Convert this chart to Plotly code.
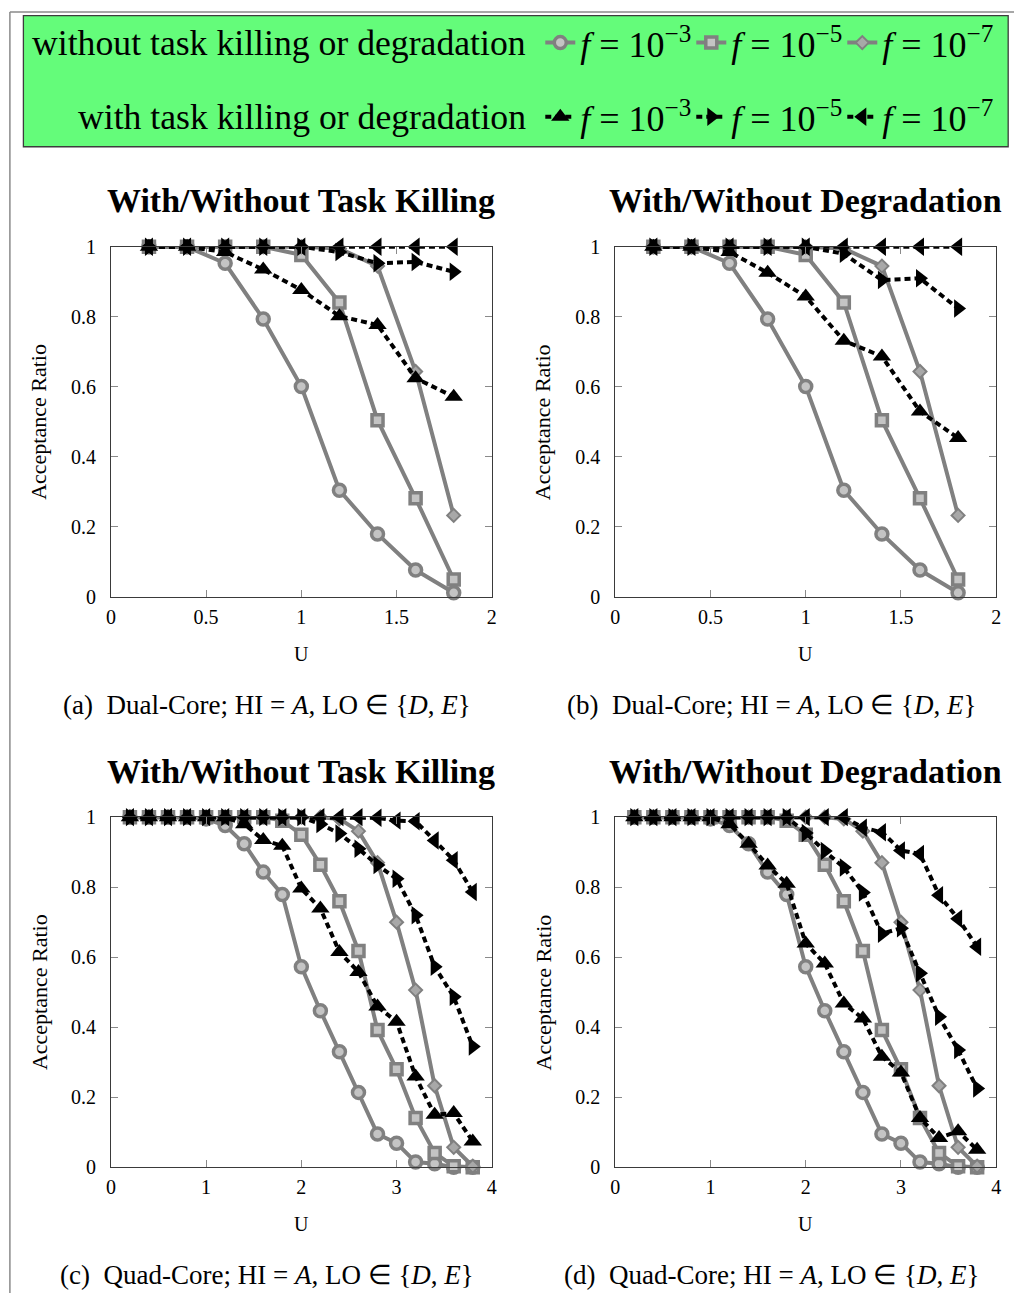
import plotly.graph_objects as go

W, H = 1019, 1304
SERIF = "Liberation Serif, Times New Roman, serif"

# placement of the layout on the rendered page (scale, offset per axis)
SX, OX = 0.9904, 4.6
SY, OY = 0.9826, 11.3

# utilization sweep
u_dual = [0.2, 0.4, 0.6, 0.8, 1.0, 1.2, 1.4, 1.6, 1.8]
u_quad = [0.2, 0.4, 0.6, 0.8, 1.0, 1.2, 1.4, 1.6, 1.8, 2.0,
          2.2, 2.4, 2.6, 2.8, 3.0, 3.2, 3.4, 3.6, 3.8]

# dual-core, baseline (no killing / degradation)
dual_base_f3 = [1, 1, 0.953, 0.794, 0.601, 0.305, 0.180, 0.077, 0.012]
dual_base_f5 = [1, 1, 1, 1, 0.977, 0.841, 0.505, 0.282, 0.050]
dual_base_f7 = [1, 1, 1, 1, 1, 0.995, 0.945, 0.644, 0.233]
# dual-core, task killing
dual_kill_f3 = [1, 1, 0.985, 0.935, 0.877, 0.802, 0.777, 0.625, 0.572]
dual_kill_f5 = [1, 1, 1, 1, 1, 0.985, 0.953, 0.957, 0.929]
dual_kill_f7 = [1, 1, 1, 1, 1, 1, 1, 1, 1]
# dual-core, degradation
dual_deg_f3 = [1, 1, 0.985, 0.926, 0.858, 0.732, 0.687, 0.530, 0.454]
dual_deg_f5 = [1, 1, 1, 1, 1, 0.980, 0.905, 0.910, 0.824]
dual_deg_f7 = [1, 1, 1, 1, 1, 1, 1, 1, 1]

# quad-core, baseline
quad_base_f3 = [1, 1, 1, 1, 0.995, 0.976, 0.924, 0.843, 0.779, 0.573,
                0.447, 0.330, 0.214, 0.095, 0.069, 0.015, 0.010, 0, 0]
quad_base_f5 = [1, 1, 1, 1, 1, 1, 1, 1, 0.990, 0.950,
                0.864, 0.760, 0.618, 0.392, 0.280, 0.141, 0.041, 0.003, 0]
quad_base_f7 = [1, 1, 1, 1, 1, 1, 1, 1, 1, 1,
                1, 0.995, 0.960, 0.870, 0.700, 0.506, 0.233, 0.057, 0.003]
# quad-core, task killing
quad_kill_f3 = [1, 1, 1, 1, 1, 1, 0.980, 0.935, 0.918, 0.796,
                0.739, 0.615, 0.558, 0.459, 0.416, 0.259, 0.150, 0.155, 0.074]
quad_kill_f5 = [1, 1, 1, 1, 1, 1, 1, 1, 1, 1,
                0.980, 0.953, 0.910, 0.863, 0.824, 0.720, 0.573, 0.487, 0.345]
quad_kill_f7 = [1, 1, 1, 1, 1, 1, 1, 1, 1, 1,
                1, 1, 1, 0.998, 0.990, 0.988, 0.933, 0.877, 0.786]
# quad-core, degradation
quad_deg_f3 = [1, 1, 1, 1, 1, 0.980, 0.924, 0.862, 0.810, 0.639,
               0.582, 0.468, 0.425, 0.316, 0.271, 0.141, 0.084, 0.103, 0.050]
quad_deg_f5 = [1, 1, 1, 1, 1, 1, 1, 1, 1, 0.955,
               0.903, 0.856, 0.785, 0.667, 0.683, 0.554, 0.430, 0.335, 0.225]
quad_deg_f7 = [1, 1, 1, 1, 1, 1, 1, 1, 1, 1,
               1, 1, 0.970, 0.957, 0.905, 0.895, 0.777, 0.710, 0.630]

f_labels = ["<i>f</i> = 10<sup>\u22123</sup>",
            "<i>f</i> = 10<sup>\u22125</sup>",
            "<i>f</i> = 10<sup>\u22127</sup>"]

GRAY = "#808080"
LIGHT = "#c4c4c4"

base_styles = [
    dict(symbol="circle", size=12, color=LIGHT, line=dict(color=GRAY, width=3.5)),
    dict(symbol="square", size=11, color=LIGHT, line=dict(color=GRAY, width=3.5)),
    dict(symbol="diamond", size=10, color="#a8a8a8", line=dict(color=GRAY, width=2)),
]
ext_styles = [
    dict(symbol="triangle-up", size=16, color="black", line=dict(width=0)),
    dict(symbol="triangle-right", size=16, color="black", line=dict(width=0)),
    dict(symbol="triangle-left", size=16, color="black", line=dict(width=0)),
]


def xp(px):
    """page x pixel -> paper fraction"""
    return ((px - OX) / SX) / W


def yp(py):
    """page y pixel (from top) -> paper fraction"""
    return 1 - ((py - OY) / SY) / H


panels = [
    dict(ax="", x0=110.5, x1=491.5, y0=247, y1=597, u=u_dual, xmax=2, dtick=0.5,
         base=[dual_base_f3, dual_base_f5, dual_base_f7],
         ext=[dual_kill_f3, dual_kill_f5, dual_kill_f7],
         title="With/Without Task Killing",
         caption="(a)\u2002Dual-Core; HI = <i>A</i>, LO \u2208 {<i>D</i>, <i>E</i>}",
         cap_x=267, legend=True),
    dict(ax="2", x0=615, x1=996, y0=247, y1=597, u=u_dual, xmax=2, dtick=0.5,
         base=[dual_base_f3, dual_base_f5, dual_base_f7],
         ext=[dual_deg_f3, dual_deg_f5, dual_deg_f7],
         title="With/Without Degradation",
         caption="(b)\u2002Dual-Core; HI = <i>A</i>, LO \u2208 {<i>D</i>, <i>E</i>}",
         cap_x=771, legend=False),
    dict(ax="3", x0=110.5, x1=491.5, y0=817, y1=1167, u=u_quad, xmax=4, dtick=1,
         base=[quad_base_f3, quad_base_f5, quad_base_f7],
         ext=[quad_kill_f3, quad_kill_f5, quad_kill_f7],
         title="With/Without Task Killing",
         caption="(c)\u2002Quad-Core; HI = <i>A</i>, LO \u2208 {<i>D</i>, <i>E</i>}",
         cap_x=267, legend=False),
    dict(ax="4", x0=615, x1=996, y0=817, y1=1167, u=u_quad, xmax=4, dtick=1,
         base=[quad_base_f3, quad_base_f5, quad_base_f7],
         ext=[quad_deg_f3, quad_deg_f5, quad_deg_f7],
         title="With/Without Degradation",
         caption="(d)\u2002Quad-Core; HI = <i>A</i>, LO \u2208 {<i>D</i>, <i>E</i>}",
         cap_x=771, legend=False),
]

fig = go.Figure()
annotations = []
axis_common = dict(
    showline=True, linecolor="#3a3a3a", linewidth=1, mirror="ticks",
    ticks="inside", ticklen=7, tickwidth=1, tickcolor="#8a8a8a",
    showgrid=False, zeroline=False, fixedrange=True,
    tickfont=dict(family=SERIF, size=20, color="black"),
)

for p in panels:
    xa = "x" + p["ax"]
    ya = "y" + p["ax"]
    for vals, st, name in zip(p["base"], base_styles, f_labels):
        fig.add_trace(go.Scatter(
            x=p["u"], y=vals, xaxis=xa, yaxis=ya, name=name,
            mode="lines+markers", cliponaxis=False,
            line=dict(color=GRAY, width=4), marker=st,
            showlegend=p["legend"], legend="legend",
        ))
    for vals, st, name in zip(p["ext"], ext_styles, f_labels):
        fig.add_trace(go.Scatter(
            x=p["u"], y=vals, xaxis=xa, yaxis=ya, name=name,
            mode="lines+markers", cliponaxis=False,
            line=dict(color="black", width=4, dash="6px,4px"), marker=st,
            showlegend=p["legend"], legend="legend2",
        ))

    fig.update_layout(**{
        "xaxis" + p["ax"]: dict(axis_common, domain=[xp(p["x0"]), xp(p["x1"])],
                                range=[0, p["xmax"]], dtick=p["dtick"], tick0=0,
                                anchor=ya, ticklabelstandoff=2),
        "yaxis" + p["ax"]: dict(axis_common, domain=[yp(p["y1"]), yp(p["y0"])],
                                range=[0, 1], dtick=0.2, tick0=0, anchor=xa,
                                ticklabelstandoff=10),
    })

    cx = (p["x0"] + p["x1"]) / 2
    cy = (p["y0"] + p["y1"]) / 2
    annotations += [
        dict(text="<b>" + p["title"] + "</b>", x=xp(cx), y=yp(p["y0"] - 46),
             font=dict(family=SERIF, size=34, color="black")),
        dict(text="U", x=xp(cx), y=yp(p["y1"] + 57),
             font=dict(family=SERIF, size=20, color="black")),
        dict(text="Acceptance Ratio", x=xp(p["x0"] - 72), y=yp(cy), textangle=-90,
             font=dict(family=SERIF, size=22, color="black")),
        dict(text=p["caption"], x=xp(p["cap_x"]), y=yp(p["y1"] + 108),
             font=dict(family=SERIF, size=27, color="black")),
    ]

for a in annotations:
    a.update(xref="paper", yref="paper", showarrow=False,
             xanchor="center", yanchor="middle")

# legend row headers
for text, row_y in [("without task killing or degradation", 43),
                    ("with task killing or degradation", 117)]:
    annotations.append(dict(
        text=text, x=xp(528), y=yp(row_y), xref="paper", yref="paper",
        xanchor="right", yanchor="middle", showarrow=False,
        font=dict(family=SERIF, size=35.7, color="black")))

legend_common = dict(
    orientation="h", xanchor="left", yanchor="middle",
    bgcolor="rgba(0,0,0,0)", borderwidth=0,
    font=dict(family=SERIF, size=36, color="black"),
    entrywidth=106, entrywidthmode="pixels", itemsizing="trace",
    tracegroupgap=0,
)

shapes = [
    # green legend panel
    dict(type="rect", xref="paper", yref="paper",
         x0=xp(23), x1=xp(1008), y0=yp(147), y1=yp(16),
         fillcolor="rgb(100,252,122)", line=dict(color="#3c3c3c", width=1.3),
         layer="below"),
    # page frame
    dict(type="line", xref="paper", yref="paper",
         x0=xp(9.5), x1=xp(9.5), y0=1 - 1 / H, y1=0,
         line=dict(color="#8a8a8a", width=1.5)),
    dict(type="line", xref="paper", yref="paper",
         x0=xp(9.5), x1=1, y0=1 - 1 / H, y1=1 - 1 / H,
         line=dict(color="#8a8a8a", width=1.5)),
]

fig.update_layout(
    width=W, height=H, margin=dict(l=0, r=0, t=0, b=0),
    paper_bgcolor="white", plot_bgcolor="white",
    font=dict(family=SERIF, color="black"),
    annotations=annotations, shapes=shapes,
    legend=dict(legend_common, x=xp(540), y=yp(43)),
    legend2=dict(legend_common, x=xp(540), y=yp(117)),
)

fig.write_html("out.html")
